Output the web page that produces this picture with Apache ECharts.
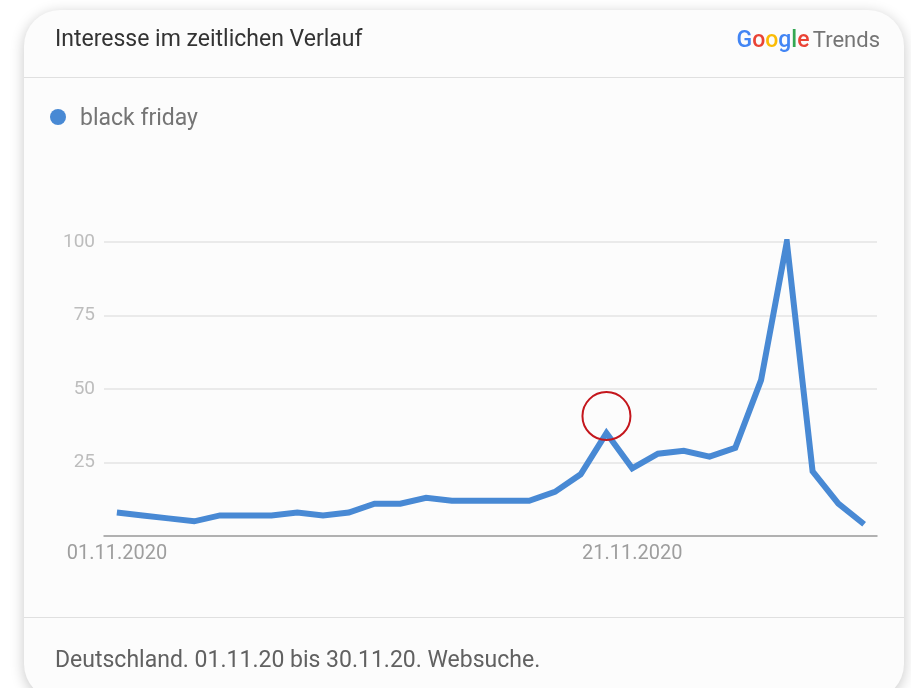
<!DOCTYPE html>
<html>
<head>
<meta charset="utf-8">
<script src="https://cdn.jsdelivr.net/npm/echarts@6/dist/echarts.min.js"></script>
<style>
html,body{margin:0;padding:0;background:#ffffff;}
#chart{width:911px;height:688px;}
</style>
</head>
<body>
<div id="chart"></div>
<script>
const categories = ['01.11.2020','02.11.2020','03.11.2020','04.11.2020','05.11.2020','06.11.2020','07.11.2020','08.11.2020','09.11.2020','10.11.2020',
  '11.11.2020','12.11.2020','13.11.2020','14.11.2020','15.11.2020','16.11.2020','17.11.2020','18.11.2020','19.11.2020','20.11.2020',
  '21.11.2020','22.11.2020','23.11.2020','24.11.2020','25.11.2020','26.11.2020','27.11.2020','28.11.2020','29.11.2020','30.11.2020'];
const blackFriday = [8,7,6,5,7,7,7,8,7,8, 11,11,13,12,12,12,12,15,21,35, 23,28,29,27,30,53,100,22,11,4];
const shownXLabels = ['01.11.2020','21.11.2020'];
const yTicks = [0,25,50,75,100];
const highlightIndex = 19;

const chart = echarts.init(document.getElementById('chart'), null, {renderer:'canvas'});
const font = 'Roboto, "Noto Sans", sans-serif';
const blue = '#4889d4';

chart.setOption({
  backgroundColor: '#ffffff',
  animation: false,
  textStyle: {fontFamily: font},
  graphic: [
    {type:'rect', z:-10, shape:{x:24, y:10, width:880, height:690, r:36},
     style:{fill:'#fcfcfc', shadowBlur:14, shadowColor:'rgba(0,0,0,0.22)', shadowOffsetY:3}},
    {type:'line', z:-5, shape:{x1:24, y1:77.5, x2:904, y2:77.5}, style:{stroke:'#e0e0e0', lineWidth:1}},
    {type:'line', z:-5, shape:{x1:24, y1:617.5, x2:904, y2:617.5}, style:{stroke:'#e0e0e0', lineWidth:1}},
    {type:'text', left:55, top:29, style:{text:'Interesse im zeitlichen Verlauf', fill:'#333333', font:'23px ' + font}},
    {type:'text', right:31, top:30, style:{
      text:'{b|G}{r|o}{y|o}{b|g}{g|l}{r|e} {t|Trends}',
      rich:{
        b:{fill:'#4285f4', font:'500 23px ' + font},
        r:{fill:'#ea4335', font:'500 23px ' + font},
        y:{fill:'#fbbc05', font:'500 23px ' + font},
        g:{fill:'#34a853', font:'500 23px ' + font},
        t:{fill:'#757575', font:'22px ' + font}
      }}},
    {type:'circle', shape:{cx:58, cy:117, r:8}, style:{fill:blue}},
    {type:'text', left:80, top:108, style:{text:'black friday', fill:'#757575', font:'23px ' + font}},
    {type:'text', left:55, top:650, style:{text:'Deutschland. 01.11.20 bis 30.11.20. Websuche.', fill:'#616161', font:'23px ' + font}}
  ],
  grid: {left:104, right:34, top:242, bottom:152, containLabel:false},
  xAxis: {
    type:'category',
    data: categories,
    boundaryGap: true,
    axisLine:{show:true, lineStyle:{color:'#9e9e9e', width:1.5}},
    axisTick:{show:false},
    splitLine:{show:false},
    axisLabel:{
      color:'#9e9e9e', fontSize:20, margin:8, fontFamily:font,
      interval: function(i, v){ return shownXLabels.indexOf(v) >= 0; }
    }
  },
  yAxis: {
    type:'value', min:yTicks[0], max:yTicks[yTicks.length-1], interval:25,
    axisLine:{show:false}, axisTick:{show:false},
    splitLine:{show:true, lineStyle:{color:'#e4e4e4', width:1.5}},
    axisLabel:{color:'#bdbdbd', fontSize:19, margin:9, fontFamily:font,
      formatter:function(v){ return v === 0 ? '' : String(v); }}
  },
  series: [{
    type:'line',
    name:'black friday',
    data: blackFriday,
    symbol:'none',
    lineStyle:{color:blue, width:6, join:'miter'},
    itemStyle:{color:blue},
    markPoint:{
      symbol:'circle',
      symbolSize:48,
      symbolOffset:[0,-17],
      silent:true,
      label:{show:false},
      itemStyle:{color:'rgba(0,0,0,0)', borderColor:'#c4161c', borderWidth:2},
      data:[{coord:[categories[highlightIndex], blackFriday[highlightIndex]]}]
    }
  }]
});
</script>
</body>
</html>
